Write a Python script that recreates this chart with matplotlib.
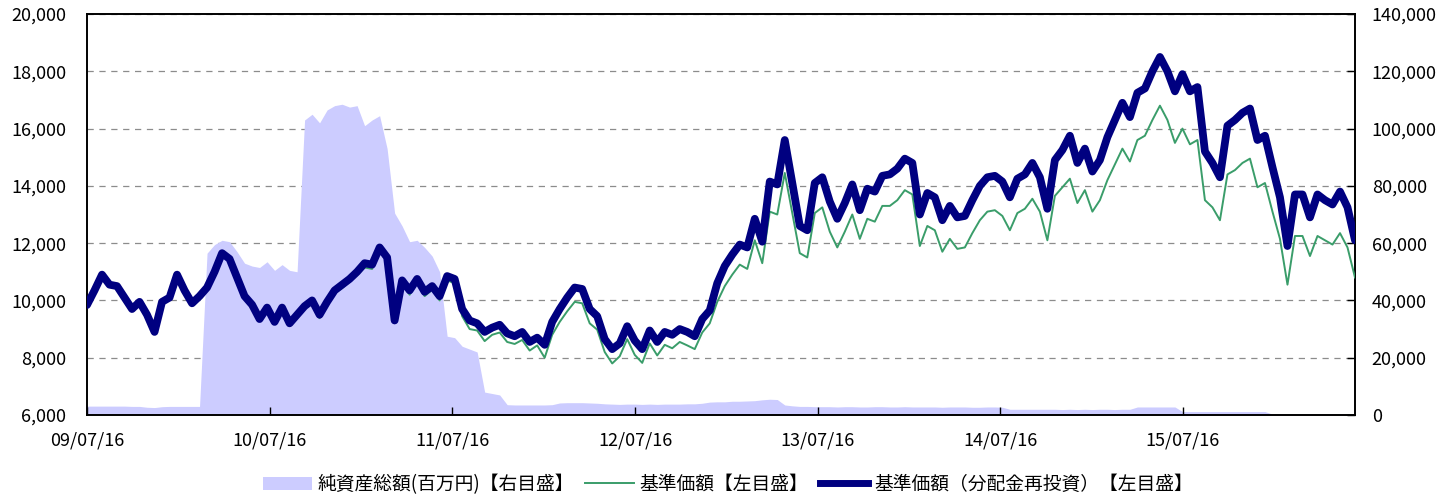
import matplotlib
matplotlib.use('Agg')
import matplotlib.pyplot as plt
import matplotlib.dates as mdates
from matplotlib.ticker import FuncFormatter
from matplotlib.patches import Patch
from matplotlib.lines import Line2D
import pandas as pd

plt.rcParams['font.family'] = ['Noto Sans CJK JP', 'DejaVu Sans']

# ---------------- data ----------------
start_date = '2009-07-16'
end_date = '2016-06-24'
tick_dates = ['2009-07-16', '2010-07-16', '2011-07-16', '2012-07-16',
              '2013-07-16', '2014-07-16', '2015-07-16']

# 基準価額(分配金再投資) [left axis]
nav_reinvested = [
    9840, 10350, 10900, 10550, 10500, 10100, 9700, 9950, 9500, 8900,
    9950, 10100, 10900, 10350, 9900, 10150, 10450, 11000, 11650, 11450,
    10800, 10150, 9850, 9350, 9750, 9250, 9750, 9200, 9500, 9800,
    10000, 9500, 9950, 10350, 10550, 10750, 11000, 11300, 11250, 11850,
    11500, 9300, 10700, 10350, 10750, 10300, 10500, 10150, 10850, 10750,
    9700, 9300, 9200, 8900, 9050, 9150, 8850, 8750, 8900, 8550,
    8700, 8450, 9250, 9700, 10100, 10450, 10400, 9700, 9450, 8650,
    8300, 8500, 9100, 8600, 8300, 8950, 8550, 8900, 8800, 9000,
    8900, 8750, 9350, 9650, 10600, 11200, 11600, 11950, 11850, 12850,
    12050, 14150, 14050, 15600, 14100, 12600, 12450, 14100, 14300, 13450,
    12850, 13400, 14050, 13150, 13900, 13800, 14350, 14400, 14600, 14950,
    14800, 13000, 13750, 13600, 12800, 13300, 12900, 12950, 13500, 14000,
    14300, 14350, 14150, 13600, 14250, 14400, 14800, 14300, 13200, 14900,
    15250, 15750, 14800, 15300, 14500, 14900, 15700, 16300, 16900, 16400,
    17250, 17400, 18000, 18500, 18000, 17300, 17900, 17300, 17450, 15200,
    14800, 14300, 16100, 16300, 16550, 16700, 15600, 15750, 14650, 13600,
    11900, 13700, 13700, 12900, 13700, 13500, 13350, 13800, 13250, 12100,
]

# 基準価額 [left axis]
nav = [
    9820, 10320, 10870, 10520, 10470, 10070, 9670, 9920, 9470, 8870,
    9920, 10070, 10870, 10320, 9870, 10120, 10420, 10970, 11620, 11420,
    10770, 10120, 9820, 9320, 9720, 9220, 9720, 9150, 9450, 9700,
    9900, 9380, 9850, 10250, 10430, 10650, 10880, 11150, 11100, 11720,
    11350, 9220, 10560, 10200, 10620, 10150, 10370, 10000, 10700, 10600,
    9450, 9000, 8950, 8580, 8800, 8880, 8550, 8480, 8620, 8250,
    8430, 8000, 8800, 9250, 9620, 9950, 9900, 9200, 8980, 8200,
    7800, 8050, 8650, 8100, 7820, 8500, 8080, 8450, 8330, 8550,
    8430, 8300, 8880, 9200, 9950, 10500, 10900, 11250, 11100, 12100,
    11300, 13100, 13000, 14450, 13050, 11650, 11500, 13050, 13250, 12400,
    11850, 12400, 13000, 12150, 12850, 12750, 13300, 13300, 13500, 13850,
    13700, 11900, 12600, 12450, 11700, 12150, 11800, 11850, 12350, 12800,
    13100, 13150, 12950, 12450, 13050, 13200, 13550, 13100, 12100, 13650,
    13950, 14250, 13400, 13850, 13100, 13500, 14200, 14750, 15300, 14850,
    15600, 15750, 16300, 16800, 16300, 15500, 16000, 15450, 15600, 13500,
    13250, 12800, 14400, 14550, 14800, 14950, 13950, 14100, 13100, 12150,
    10550, 12250, 12250, 11550, 12250, 12100, 11950, 12350, 11850, 10800,
]

# 純資産総額(百万円) [right axis]
net_assets = [
    3100, 3100, 3100, 3100, 3100, 3100, 3000, 3000,
    2700, 2600, 2900, 3000, 3000, 3000, 3000, 3000,
    56500, 59500, 61000, 60500, 57000, 53000, 52000, 51500,
    53500, 50500, 52500, 50500, 50000, 103000, 105000, 102000,
    106500, 108000, 108500, 107500, 108000, 101000, 103000, 104500,
    93000, 70500, 66000, 60500, 61000, 58500, 55500, 50000,
    27500, 27000, 24000, 23000, 22000, 8000, 7500, 7000,
    3600, 3500, 3500, 3500, 3500, 3500, 3600, 4200,
    4300, 4300, 4300, 4200, 4100, 3900, 3800, 3700,
    3800, 3800, 3700, 3800, 3700, 3800, 3800, 3800,
    3900, 3900, 4100, 4500, 4600, 4600, 4800, 4800,
    4900, 5000, 5300, 5500, 5400, 3500, 3200, 3000,
    3000, 2900, 2900, 2900, 2800, 2900, 2900, 2800,
    2800, 2900, 2900, 2800, 2800, 2900, 2800, 2800,
    2800, 2800, 2700, 2800, 2800, 2800, 2700, 2700,
    2800, 2800, 2700, 2000, 2000, 2000, 2000, 2000,
    2000, 2000, 1900, 2000, 1900, 2000, 1900, 2000,
    2000, 1900, 2000, 2000, 2800, 2800, 2800, 2800,
    2800, 2800, 1200, 1200, 1200, 1200, 1200, 1200,
    1200, 1200, 1200, 1200, 1200, 1200, 300, 300,
    300, 300, 300, 300, 300, 300, 300, 300,
    300, 300,
]

labels = ['純資産総額(百万円)【右目盛】', '基準価額【左目盛】',
          '基準価額（分配金再投資）【左目盛】']

# ---------------- styles ----------------
AREA = '#CCCCFF'
GREEN = '#3A9D6A'
NAVY = '#000080'
GRID = '#8C8C8C'
FS = 13

dates = pd.date_range(start_date, end_date, periods=len(nav_reinvested))

fig = plt.figure(figsize=(14.56, 4.97), dpi=100)
ax = fig.add_axes([87 / 1456, 82 / 497, 1268 / 1456, 401 / 497])
ax2 = ax.twinx()
ax.set_zorder(ax2.get_zorder() + 1)
ax.patch.set_visible(False)

# right axis: area + grid (grid behind area)
ax2.set_axisbelow(True)
ax2.fill_between(dates, net_assets, 0, color=AREA, lw=0, zorder=2)
ax2.set_ylim(0, 140000)
ax2.set_yticks(range(0, 140001, 20000))
ax2.grid(axis='y', color=GRID, ls=(0, (5, 4.5)), lw=0.9)
ax2.yaxis.set_major_formatter(FuncFormatter(lambda v, p: f'{int(v):,}'))
ax2.tick_params(axis='y', direction='in', length=6, width=1, pad=12,
                labelsize=FS, colors='black')

# left axis: lines
ax.plot(dates, nav, color=GREEN, lw=1.4, zorder=3)
ax.plot(dates, nav_reinvested, color=NAVY, lw=5.6, zorder=4,
        solid_capstyle='round', solid_joinstyle='round')
ax.set_ylim(6000, 20000)
ax.set_yticks(range(6000, 20001, 2000))
ax.yaxis.set_major_formatter(FuncFormatter(lambda v, p: f'{int(v):,}'))
ax.tick_params(axis='y', length=0, pad=15, labelsize=FS, colors='black')

ax.set_xlim(pd.Timestamp(start_date), pd.Timestamp(end_date))
ax.set_xticks(pd.to_datetime(tick_dates))
ax.xaxis.set_major_formatter(mdates.DateFormatter('%y/%m/%d'))
ax.tick_params(axis='x', direction='in', length=6, width=1, pad=12,
               labelsize=FS, colors='black')

for a in (ax, ax2):
    for s in a.spines.values():
        s.set_color('black')
        s.set_linewidth(1.2)

handles = [Patch(facecolor=AREA, edgecolor='none'),
           Line2D([], [], color=GREEN, lw=1.4),
           Line2D([], [], color=NAVY, lw=5.0)]
fig.legend(handles, labels, loc='lower center', bbox_to_anchor=(0.5, -0.018),
           ncol=3, frameon=False, fontsize=13.5, handlelength=2.6,
           handletextpad=0.3, columnspacing=0.6, borderaxespad=0.2)

fig.savefig('out.png', dpi=100)
